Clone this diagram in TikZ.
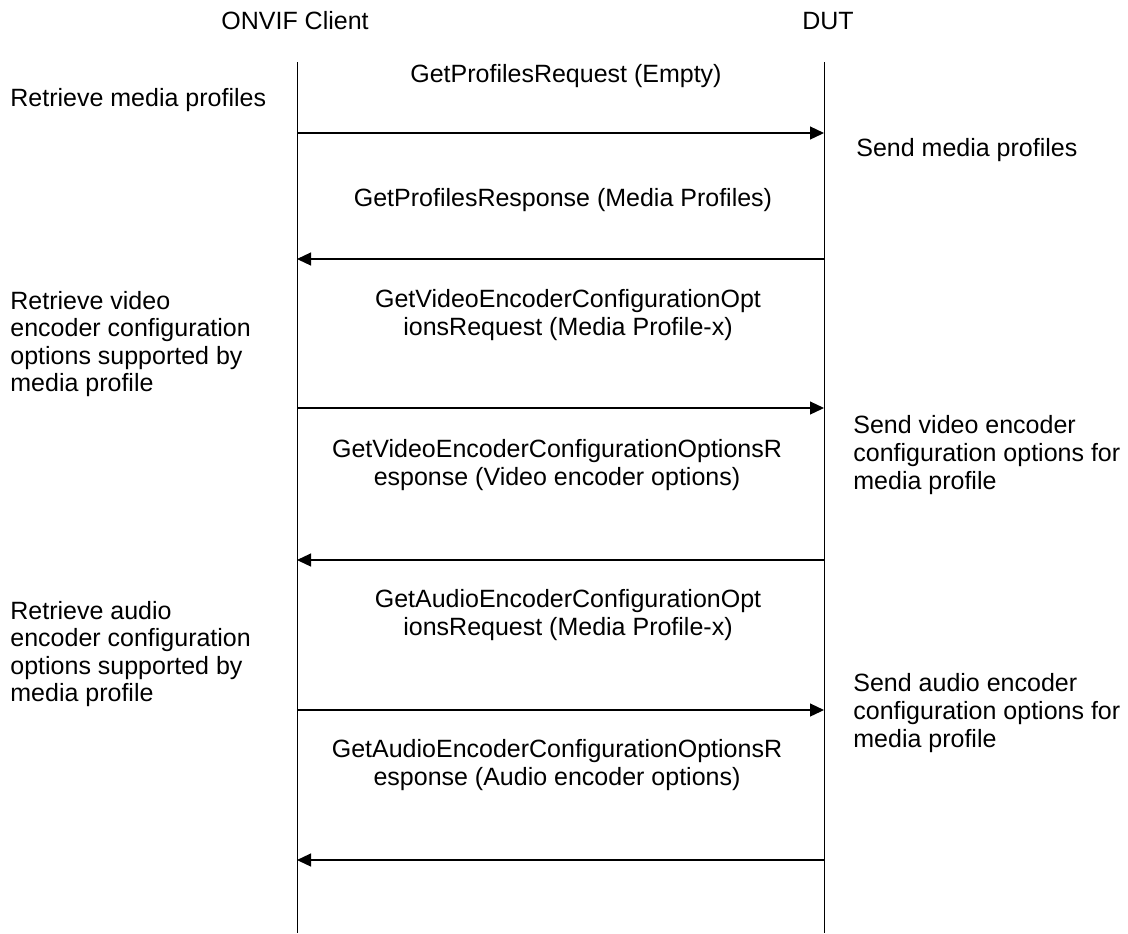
\documentclass[tikz,border=0pt]{standalone}
\usepackage{fontspec}
\setmainfont{Liberation Sans}
\usetikzlibrary{arrows.meta}

\begin{document}
\begin{tikzpicture}[
  x=0.5pt, y=-0.5pt,
  every node/.style={font=\fontsize{12.5}{13.8}\selectfont, inner sep=0pt},
  party/.style={anchor=center},
  msglabel/.style={align=center},
  sidenote/.style={anchor=west, align=left},
  lifeline/.style={line width=0.5pt},
  msg/.style={-{Triangle[length=7pt,width=6.5pt]}, line width=0.6pt},
]
\useasboundingbox (0,0) rectangle (1128,933);

% Participants
\node[party] (client) at (295,21) {ONVIF Client};
\node[party] (dut)    at (828,21) {DUT};

% Lifelines
\coordinate (clientTop) at (297,62);
\coordinate (clientBot) at (297,933);
\coordinate (dutTop)    at (824,62);
\coordinate (dutBot)    at (824,933);
\draw[lifeline] (clientTop) -- (clientBot);
\draw[lifeline] (dutTop) -- (dutBot);

% Message anchors on the lifelines
\coordinate (c1) at (297,133); \coordinate (d1) at (824,133);
\coordinate (c2) at (297,259); \coordinate (d2) at (824,259);
\coordinate (c3) at (297,408); \coordinate (d3) at (824,408);
\coordinate (c4) at (297,560); \coordinate (d4) at (824,560);
\coordinate (c5) at (297,710); \coordinate (d5) at (824,710);
\coordinate (c6) at (297,860); \coordinate (d6) at (824,860);

% Messages
\draw[msg] (c1) -- (d1);
\draw[msg] (d2) -- (c2);
\draw[msg] (c3) -- (d3);
\draw[msg] (d4) -- (c4);
\draw[msg] (c5) -- (d5);
\draw[msg] (d6) -- (c6);

% Message labels
\node[msglabel] (m1) at (566,76)  {GetProfilesRequest (Empty)};
\node[msglabel] (m2) at (563,200) {GetProfilesResponse (Media Profiles)};
\node[msglabel] (m3) at (568,315) {GetVideoEncoderConfigurationOpt\\ionsRequest (Media Profile-x)};
\node[msglabel] (m4) at (557,465) {GetVideoEncoderConfigurationOptionsR\\esponse (Video encoder options)};
\node[msglabel] (m5) at (568,615) {GetAudioEncoderConfigurationOpt\\ionsRequest (Media Profile-x)};
\node[msglabel] (m6) at (557,765) {GetAudioEncoderConfigurationOptionsR\\esponse (Audio encoder options)};

% Client side notes
\node[sidenote] (n1) at (10,100) {Retrieve media profiles};
\node[sidenote] (n2) at (10,344) {Retrieve video\\encoder configuration\\options supported by\\media profile};
\node[sidenote] (n3) at (10,654) {Retrieve audio\\encoder configuration\\options supported by\\media profile};

% DUT side notes
\node[sidenote] (s1) at (856,150) {Send media profiles};
\node[sidenote] (s2) at (853,455) {Send video encoder\\configuration options for\\media profile};
\node[sidenote] (s3) at (853,713) {Send audio encoder\\configuration options for\\media profile};

\end{tikzpicture}
\end{document}
